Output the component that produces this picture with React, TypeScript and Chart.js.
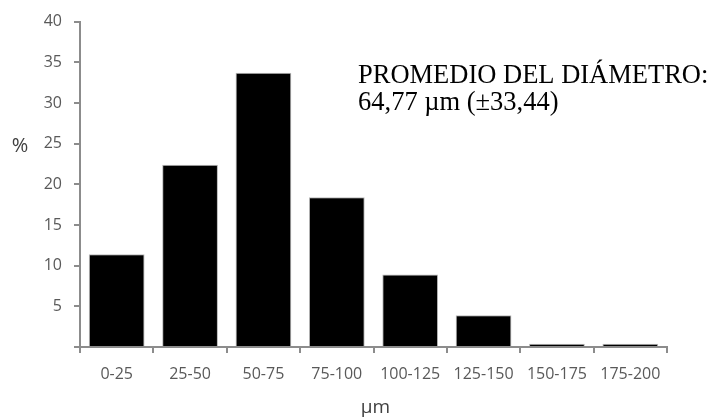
import React, { useEffect, useRef } from "react";
import { Chart, registerables } from "chart.js";

Chart.register(...registerables);

const categories = ["0-25", "25-50", "50-75", "75-100", "100-125", "125-150", "150-175", "175-200"];
const percentValues = [11.4, 22.4, 33.7, 18.4, 8.9, 3.9, 0.4, 0.4];
const yTicks = [0, 5, 10, 15, 20, 25, 30, 35, 40];
const annotationLines = ["PROMEDIO DEL DIÁMETRO:", "64,77 µm (±33,44)"];
const yTitle = "%";
const xTitle = "µm";

const textPlugin = {
  id: "textPlugin",
  afterDraw(chart: any) {
    const { ctx, chartArea } = chart;
    ctx.save();
    ctx.fillStyle = "#000";
    ctx.font = "26.5px 'Liberation Serif', 'Times New Roman', serif";
    ctx.textAlign = "left";
    ctx.textBaseline = "alphabetic";
    ctx.fillText(annotationLines[0], 358, 83);
    ctx.fillText(annotationLines[1], 358, 110);
    ctx.fillStyle = "#404040";
    ctx.font = "20px 'Open Sans', sans-serif";
    ctx.textAlign = "center";
    ctx.textBaseline = "middle";
    ctx.fillText(yTitle, 20, 146);
    ctx.font = "19px 'Open Sans', sans-serif";
    ctx.fillText(xTitle, (chartArea.left + chartArea.right) / 2 + 2, 408);
    ctx.restore();
  },
};

export default function App() {
  const ref = useRef<HTMLCanvasElement | null>(null);
  useEffect(() => {
    document.body.style.margin = "0";
    const canvas = ref.current!;
    const chart = new Chart(canvas, {
      type: "bar",
      data: {
        labels: categories,
        datasets: [
          {
            data: percentValues,
            backgroundColor: "#000000",
            borderColor: "#b8b8b8",
            borderWidth: 1,
            categoryPercentage: 1,
            barPercentage: 0.76,
          },
        ],
      },
      options: {
        animation: false,
        responsive: false,
        maintainAspectRatio: false,
        layout: { padding: { top: 19, right: 46, left: 0, bottom: 0 } },
        plugins: { legend: { display: false }, tooltip: { enabled: false } },
        scales: {
          x: {
            offset: true,
            grid: {
              display: true,
              offset: true,
              drawOnChartArea: false,
              drawTicks: true,
              tickLength: 6,
              color: "#8c8c8c",
              lineWidth: 2,
            },
            border: { display: true, color: "#8c8c8c", width: 2 },
            ticks: {
              color: "#595959",
              font: { family: "'Open Sans', sans-serif", size: 16 },
              padding: 12,
              maxRotation: 0,
              autoSkip: false,
            },
            afterFit(scale: any) {
              scale.height = 72;
            },
          },
          y: {
            min: 0,
            max: 40,
            afterBuildTicks(scale: any) {
              scale.ticks = yTicks.map((v) => ({ value: v }));
            },
            grid: {
              display: true,
              drawOnChartArea: false,
              drawTicks: true,
              tickLength: 6,
              color: "#8c8c8c",
              lineWidth: 2,
            },
            border: { display: true, color: "#8c8c8c", width: 2 },
            ticks: {
              color: "#595959",
              font: { family: "'Open Sans', sans-serif", size: 16 },
              padding: 12,
              callback: (v: any) => (v === 0 ? "" : String(v)),
            },
            afterFit(scale: any) {
              scale.width = 80;
            },
          },
        },
      },
      plugins: [textPlugin],
    });
    return () => chart.destroy();
  }, []);
  return (
    <div style={{ width: 713, height: 419, position: "relative", background: "#fff" }}>
      <canvas ref={ref} width={713} height={419} style={{ width: 713, height: 419, display: "block" }} />
    </div>
  );
}
